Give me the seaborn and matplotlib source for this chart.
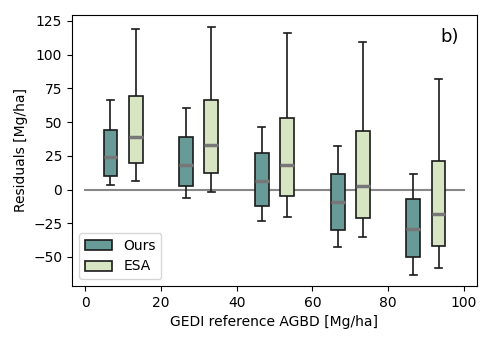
import numpy as np
import pandas as pd
import matplotlib
matplotlib.use("Agg")
import matplotlib.pyplot as plt
import seaborn as sns

bins = [10, 30, 50, 70, 90]
methods = ["Ours", "ESA"]
# five-number summaries: [low whisker, Q1, median, Q3, high whisker]
ours_stats = [
    [3.4, 10.1, 24.2, 44.4, 66.2],
    [-6.5, 2.4, 18.5, 39.2, 60.3],
    [-23.0, -12.2, 6.2, 26.9, 46.4],
    [-42.8, -30.0, -9.4, 11.6, 32.6],
    [-63.1, -50.2, -29.0, -7.2, 11.8],
]
esa_stats = [
    [6.4, 19.5, 39.2, 69.4, 118.9],
    [-1.8, 12.1, 32.8, 66.4, 120.8],
    [-20.1, -4.7, 18.0, 52.9, 116.4],
    [-35.4, -21.1, 2.7, 43.7, 109.4],
    [-57.9, -42.0, -18.1, 21.0, 82.0],
]
xticks = [0, 20, 40, 60, 80, 100]
yticks = [-50, -25, 0, 25, 50, 75, 100, 125]

rows = []
for b, so, se in zip(bins, ours_stats, esa_stats):
    for v in so:
        rows.append({"bin": b, "method": "Ours", "res": v})
    for v in se:
        rows.append({"bin": b, "method": "ESA", "res": v})
df = pd.DataFrame(rows)

fig = plt.figure(figsize=(4.93, 3.45), dpi=100)
ax = fig.add_axes([72/493, 1-286/345, (477-72)/493, (286-15)/345])

ax.plot([0, 100], [0, 0], color="#888888", lw=1.5, zorder=0.5)

sns.boxplot(data=df, x="bin", y="res", hue="method", hue_order=methods,
            native_scale=True, width=0.667, gap=0.45, whis=(0, 100),
            palette={"Ours": "#5fa39f", "ESA": "#d9ebbd"},
            linecolor="#1a1a1a", linewidth=1.2,
            medianprops={"color": "#777777", "linewidth": 2.5},
            showfliers=False, ax=ax)

ax.set_xlim(-3.5, 103.5)
ax.set_ylim(-71.5, 129.4)
ax.set_xticks(xticks)
ax.set_xticklabels([str(t) for t in xticks])
ax.set_yticks(yticks)
ax.set_xlabel("GEDI reference AGBD [Mg/ha]")
ax.set_ylabel("Residuals [Mg/ha]")
ax.text(0.933, 0.918, "b)", transform=ax.transAxes, ha="center", va="center", fontsize=13)
leg = ax.legend(loc="lower left", fontsize=10)

fig.savefig("out.png", dpi=100)
